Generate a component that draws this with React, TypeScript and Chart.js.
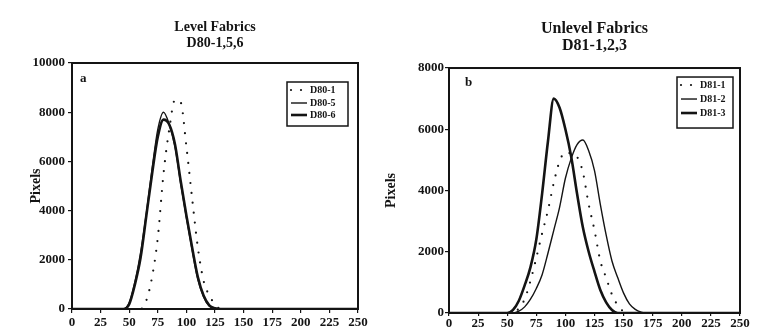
import React, { useEffect, useRef } from "react";
import { Chart, registerables } from "chart.js";

Chart.register(...registerables);

// Grey level (x) sampled every 5 units
const GREY_LEVELS = [
  0, 5, 10, 15, 20, 25, 30, 35, 40, 45, 50, 55, 60, 65, 70, 75, 80, 85, 90, 95, 100,
  105, 110, 115, 120, 125, 130, 135, 140, 145, 150, 155, 160, 165, 170, 175, 180, 185,
  190, 195, 200, 205, 210, 215, 220, 225, 230, 235, 240, 245, 250,
];

// Panel a: Level fabrics
const D80_1 = [
  0, 0, 0, 0, 0, 0, 0, 0, 0, 0, 0, 0, 0, 350, 1300, 2900, 5500, 7300, 8500, 8400, 6600,
  4500, 2500, 1150, 550, 200, 0, 0, 0, 0, 0, 0, 0, 0, 0, 0, 0, 0,
  0, 0, 0, 0, 0, 0, 0, 0, 0, 0, 0, 0, 0,
];
const D80_5 = [
  0, 0, 0, 0, 0, 0, 0, 0, 0, 0, 250, 1100, 2300, 3900, 5700, 7300, 8000, 7500, 6600, 5100, 3700,
  2400, 1200, 500, 120, 20, 0, 0, 0, 0, 0, 0, 0, 0, 0, 0, 0, 0,
  0, 0, 0, 0, 0, 0, 0, 0, 0, 0, 0, 0, 0,
];
const D80_6 = [
  0, 0, 0, 0, 0, 0, 0, 0, 0, 0, 200, 1000, 2100, 3800, 5500, 7000, 7700, 7500, 6700, 5200, 3800,
  2500, 1300, 550, 150, 30, 0, 0, 0, 0, 0, 0, 0, 0, 0, 0, 0, 0,
  0, 0, 0, 0, 0, 0, 0, 0, 0, 0, 0, 0, 0,
];

// Panel b: Unlevel fabrics
const D81_1 = [
  0, 0, 0, 0, 0, 0, 0, 0, 0, 0, 0, 0, 150, 450, 1050, 1800, 2600, 3350, 4250, 4950, 5250,
  5200, 5100, 4600, 3550, 2700, 1700, 1150, 600, 250, 50, 0, 0, 0, 0, 0, 0, 0,
  0, 0, 0, 0, 0, 0, 0, 0, 0, 0, 0, 0, 0,
];
const D81_2 = [
  0, 0, 0, 0, 0, 0, 0, 0, 0, 0, 0, 0, 60, 200, 450, 800, 1250, 1950, 2700, 3450, 4400,
  5050, 5500, 5650, 5300, 4650, 3550, 2550, 1700, 1150, 650, 300, 120, 30, 0, 0, 0, 0,
  0, 0, 0, 0, 0, 0, 0, 0, 0, 0, 0, 0, 0,
];
const D81_3 = [
  0, 0, 0, 0, 0, 0, 0, 0, 0, 0, 0, 100, 400, 900, 1500, 2400, 3900, 5600, 7000, 6700, 6000,
  5100, 3900, 2800, 2000, 1350, 750, 350, 100, 0, 0, 0, 0, 0, 0, 0, 0, 0,
  0, 0, 0, 0, 0, 0, 0, 0, 0, 0, 0, 0, 0,
];

const X_TICK_STEP = 25;
const Y_TICK_STEP = 2000;

const INK = "#141414";
const SERIF = "'Liberation Serif', 'Times New Roman', serif";

type Series = { label: string; values: number[]; style: "dot" | "thin" | "thick" };

type PanelSpec = {
  width: number;
  title: string[];
  titleSize: number;
  titleLineHeight: number;
  letter: string;
  yMax: number;
  series: Series[];
  padLeft: number;
  padTop: number;
  padRight: number;
  yAxisWidth: number;
  yTickPad: number;
  titleGap: number;
  xAxisHeight: number;
  xTickPad: number;
  xTickLen: number;
  legend: { offR: number; offT: number; w: number; h: number; rows: number[] };
  letterPos: { dx: number; dy: number };
};

const decorPlugin = {
  id: "panelDecor",
  afterDraw(chart: any, _args: any, opts: any) {
    const { ctx, chartArea } = chart;
    const { left, right, top, bottom } = chartArea;
    ctx.save();
    // frame
    ctx.strokeStyle = INK;
    ctx.lineWidth = 2;
    ctx.strokeRect(left, top, right - left, bottom - top);

    // panel letter
    ctx.fillStyle = INK;
    ctx.font = `bold 13px ${SERIF}`;
    ctx.textBaseline = "middle";
    ctx.textAlign = "left";
    ctx.fillText(opts.letter, left + opts.letterPos.dx, top + opts.letterPos.dy);

    // legend box
    const lg = opts.legend;
    const bx = right - lg.offR - lg.w;
    const by = top + lg.offT;
    ctx.lineWidth = 1.5;
    ctx.strokeRect(bx, by, lg.w, lg.h);
    ctx.font = `bold 10px ${SERIF}`;
    chart.data.datasets.forEach((ds: any, i: number) => {
      const ry = by + lg.rows[i];
      ctx.beginPath();
      ctx.setLineDash(ds.borderDash || []);
      ctx.lineCap = ds.borderCapStyle || "butt";
      ctx.lineWidth = ds.borderWidth;
      ctx.moveTo(bx + 4, ry);
      ctx.lineTo(bx + 20, ry);
      ctx.stroke();
      ctx.setLineDash([]);
      ctx.fillText(ds.label, bx + 23, ry);
    });
    ctx.restore();
  },
};

function datasetStyle(style: Series["style"]) {
  if (style === "dot") {
    return { borderWidth: 2.2, borderDash: [0, 10], borderCapStyle: "round" };
  }
  if (style === "thin") {
    return { borderWidth: 1.4, borderDash: [], borderCapStyle: "butt" };
  }
  return { borderWidth: 2.6, borderDash: [], borderCapStyle: "butt" };
}

function Panel({ spec }: { spec: PanelSpec }) {
  const ref = useRef<HTMLCanvasElement | null>(null);

  useEffect(() => {
    if (!ref.current) return;
    const tickFont = { family: SERIF, size: 13, weight: "bold" as const };
    const chart = new Chart(ref.current, {
      type: "line",
      data: {
        datasets: spec.series.map((s) => ({
          label: s.label,
          data: s.values.map((v, i) => ({ x: GREY_LEVELS[i], y: v })),
          borderColor: INK,
          backgroundColor: INK,
          pointRadius: 0,
          cubicInterpolationMode: "monotone",
          fill: false,
          ...datasetStyle(s.style),
        })) as any,
      },
      options: {
        responsive: false,
        animation: false,
        events: [],
        layout: {
          padding: { left: spec.padLeft, top: spec.padTop, right: spec.padRight, bottom: 0 },
        },
        plugins: {
          legend: { display: false },
          tooltip: { enabled: false },
          title: {
            display: true,
            text: spec.title,
            fullSize: false,
            color: INK,
            font: {
              family: SERIF,
              size: spec.titleSize,
              weight: "bold",
              lineHeight: spec.titleLineHeight,
            },
            padding: { top: 0, bottom: spec.titleGap },
          },
          panelDecor: {
            letter: spec.letter,
            legend: spec.legend,
            letterPos: spec.letterPos,
          },
        } as any,
        scales: {
          x: {
            type: "linear",
            min: 0,
            max: 250,
            ticks: {
              stepSize: X_TICK_STEP,
              autoSkip: false,
              maxRotation: 0,
              color: INK,
              font: tickFont,
              padding: spec.xTickPad,
              callback: (v: any) => String(v),
            },
            grid: {
              drawOnChartArea: false,
              drawTicks: true,
              tickLength: spec.xTickLen,
              color: INK,
              lineWidth: 1.2,
            },
            border: { display: true, color: INK, width: 2 },
            afterFit: (s: any) => {
              s.height = spec.xAxisHeight;
            },
          },
          y: {
            type: "linear",
            min: 0,
            max: spec.yMax,
            ticks: {
              stepSize: Y_TICK_STEP,
              color: INK,
              font: tickFont,
              padding: spec.yTickPad,
              callback: (v: any) => String(v),
            },
            grid: {
              drawOnChartArea: false,
              drawTicks: true,
              tickLength: 4,
              color: INK,
              lineWidth: 1.2,
            },
            border: { display: true, color: INK, width: 2 },
            title: {
              display: true,
              text: "Pixels",
              color: INK,
              font: { family: SERIF, size: 14, weight: "bold", lineHeight: 1.2 },
              padding: { top: 4, bottom: 0 },
            },
            afterFit: (s: any) => {
              s.width = spec.yAxisWidth;
            },
          },
        },
      },
      plugins: [decorPlugin],
    });
    return () => chart.destroy();
  }, [spec]);

  return (
    <canvas
      ref={ref}
      width={spec.width}
      height={329}
      style={{ width: spec.width, height: 329, display: "block" }}
    />
  );
}

const LEFT_PANEL: PanelSpec = {
  width: 377,
  title: ["Level Fabrics", "D80-1,5,6"],
  titleSize: 14,
  titleLineHeight: 1.15,
  letter: "a",
  yMax: 10000,
  series: [
    { label: "D80-1", values: D80_1, style: "dot" },
    { label: "D80-5", values: D80_5, style: "thin" },
    { label: "D80-6", values: D80_6, style: "thick" },
  ],
  padLeft: 24,
  padTop: 19,
  padRight: 19,
  yAxisWidth: 48,
  yTickPad: 3,
  titleGap: 11.8,
  xAxisHeight: 20,
  xTickPad: 2,
  xTickLen: 4,
  legend: { offR: 10, offT: 19, w: 61, h: 44, rows: [8, 21, 33] },
  letterPos: { dx: 8, dy: 16 },
};

const RIGHT_PANEL: PanelSpec = {
  width: 380,
  title: ["Unlevel Fabrics", "D81-1,2,3"],
  titleSize: 16,
  titleLineHeight: 1.06,
  letter: "b",
  yMax: 8000,
  series: [
    { label: "D81-1", values: D81_1, style: "dot" },
    { label: "D81-2", values: D81_2, style: "thin" },
    { label: "D81-3", values: D81_3, style: "thick" },
  ],
  padLeft: 2,
  padTop: 20.5,
  padRight: 17,
  yAxisWidth: 70,
  yTickPad: 1,
  titleGap: 13.6,
  xAxisHeight: 16,
  xTickPad: 0,
  xTickLen: 3,
  legend: { offR: 7, offT: 9, w: 56, h: 51, rows: [8, 22, 36] },
  letterPos: { dx: 16, dy: 15 },
};

export default function App() {
  return (
    <div
      style={{
        position: "absolute",
        left: 0,
        top: 0,
        width: 757,
        height: 329,
        display: "flex",
        background: "#ffffff",
      }}
    >
      <Panel spec={LEFT_PANEL} />
      <Panel spec={RIGHT_PANEL} />
    </div>
  );
}
